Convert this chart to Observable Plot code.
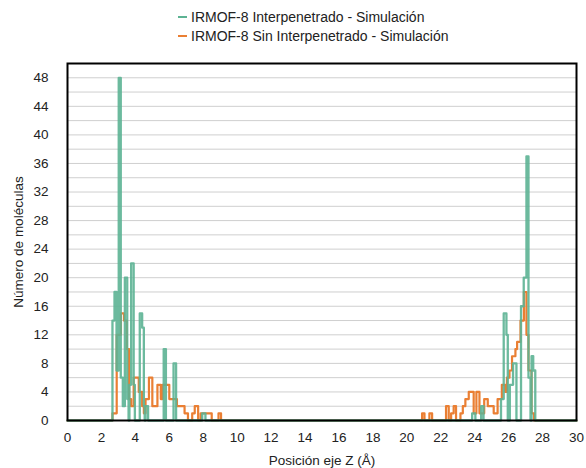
<!DOCTYPE html>
<html>
<head>
<meta charset="utf-8">
<script src="https://cdn.jsdelivr.net/npm/d3@7"></script>
<script src="https://cdn.jsdelivr.net/npm/@observablehq/plot@0.6"></script>
<style>
  html, body { margin: 0; padding: 0; background: #fff; }
  body { width: 586px; height: 468px; overflow: hidden; font-family: "Liberation Sans", Arial, sans-serif; color: #222; }
  #legend { position: relative; height: 52px; font-size: 14px; }
  .item { position: absolute; left: 178px; display: flex; align-items: center; white-space: nowrap; }
  .sw { width: 9px; height: 2px; margin-right: 4px; }
</style>
</head>
<body>
<div id="legend"></div>
<div id="chart"></div>
<script>
// Series names
const seriesNames = ["IRMOF-8 Interpenetrado - Simulación", "IRMOF-8 Sin Interpenetrado - Simulación"];
const seriesColors = ["#5cb393", "#ea7f33"];

// Green series: step breakpoints (Å) and counts from each breakpoint
const zGreen = [0, 2.65, 2.77, 2.89, 3.02, 3.14, 3.26, 3.38, 3.52, 3.6, 3.65, 3.75, 3.9, 3.97, 4.26, 4.4, 4.5, 4.55, 4.6, 4.75, 5.67, 5.8, 6.25, 6.4, 7.94, 8.13, 23.85, 24.04, 24.38, 24.52, 25.55, 25.71, 25.87, 25.95, 26.07, 26.26, 26.46, 26.73, 26.89, 27.05, 27.17, 27.29, 27.35, 27.45, 27.57, 30];
const nGreen = [0, 14, 18, 7, 48, 6, 2, 20, 3, 0, 5, 22, 5, 0, 15, 13, 2, 0, 2, 0, 10, 0, 8, 0, 1, 0, 1, 0, 2, 0, 3, 15, 12, 0, 5, 8, 0, 16, 20, 37, 6, 0, 9, 7, 0, 0];

// Orange series
const zOrange = [0, 2.65, 2.9, 3.15, 3.33, 3.5, 3.63, 3.75, 3.9, 4.2, 4.4, 4.5, 4.6, 4.8, 5.0, 5.3, 5.5, 5.6, 6.0, 6.45, 6.9, 7.1, 7.35, 7.5, 7.7, 7.85, 8.5, 8.9, 9.05, 20.9, 21.04, 21.33, 21.49, 22.31, 22.47, 22.61, 22.76, 22.9, 23.16, 23.3, 23.45, 23.65, 23.94, 24.1, 24.28, 24.56, 24.77, 25.12, 25.35, 25.6, 25.8, 25.9, 26.05, 26.2, 26.4, 26.5, 26.7, 26.9, 27.05, 27.17, 27.35, 27.5, 30];
const nOrange = [0, 1, 12, 15, 14, 10, 3, 2, 6, 4, 2, 1, 3, 6, 2, 5, 3, 5, 3, 2, 1, 0, 1, 2, 0, 1, 0, 1, 0, 1, 0, 1, 0, 2, 0, 1, 2, 0, 1, 2, 3, 4, 1, 4, 1, 3, 2, 1, 3, 5, 4, 6, 7, 9, 10, 11, 14, 18, 12, 7, 1, 0, 0];

// Axis ticks
const xTicks = [0, 2, 4, 6, 8, 10, 12, 14, 16, 18, 20, 22, 24, 26, 28, 30];
const yTicks = [0, 4, 8, 12, 16, 20, 24, 28, 32, 36, 40, 44, 48];
const yGrid = [2, 4, 6, 8, 10, 12, 14, 16, 18, 20, 22, 24, 26, 28, 30, 32, 34, 36, 38, 40, 42, 44, 46, 48];

const green = zGreen.map((z, i) => ({z, n: nGreen[i]}));
const orange = zOrange.map((z, i) => ({z, n: nOrange[i]}));

// Legend
const legend = document.getElementById("legend");
seriesNames.forEach((name, i) => {
  const d = document.createElement("div");
  d.className = "item";
  d.style.top = (i === 0 ? 9 : 28) + "px";
  d.innerHTML = `<span class="sw" style="background:${seriesColors[i]}"></span><span>${name}</span>`;
  legend.appendChild(d);
});

const chart = Plot.plot({
  width: 586,
  height: 416,
  marginTop: 11,
  marginBottom: 48,
  marginLeft: 67,
  marginRight: 10,
  style: {fontFamily: "Liberation Sans, Arial, sans-serif", fontSize: "13.5px", color: "#222", background: "#fff"},
  x: {domain: [0, 30], ticks: xTicks, tickSize: 0, tickPadding: 12, label: "Posición eje Z (Å)", labelAnchor: "center", labelArrow: "none", labelOffset: 44},
  y: {domain: [0, 50], ticks: yTicks, tickSize: 0, tickPadding: 19, label: "Número de moléculas", labelAnchor: "center", labelArrow: "none", labelOffset: 54},
  marks: [
    Plot.gridY(yGrid, {stroke: "#cfcfcf", strokeOpacity: 1}),
    Plot.line(orange, {x: "z", y: "n", curve: "step-after", stroke: seriesColors[1], strokeWidth: 2.2}),
    Plot.line(green, {x: "z", y: "n", curve: "step-after", stroke: seriesColors[0], strokeWidth: 2.3, strokeOpacity: 0.9}),
    Plot.frame({stroke: "#000", strokeWidth: 2})
  ]
});
document.getElementById("chart").appendChild(chart);
</script>
</body>
</html>
